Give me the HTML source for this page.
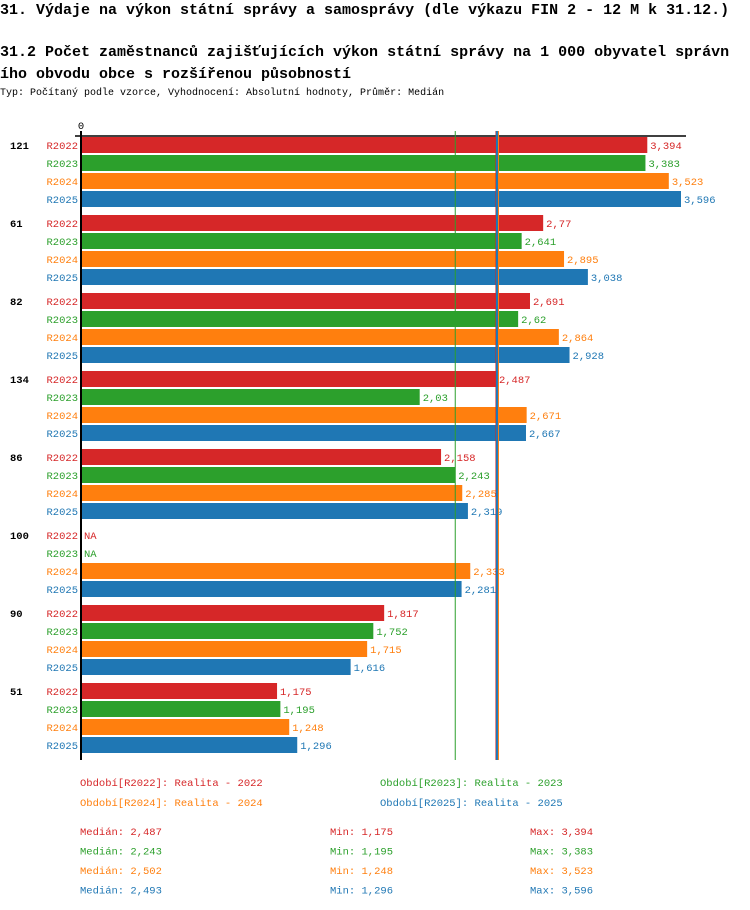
<!DOCTYPE html>
<html><head><meta charset="utf-8"><style>
body{margin:0;background:#fff;width:750px;height:910px;overflow:hidden;font-family:"Liberation Mono",monospace}
.t{position:absolute;white-space:nowrap}
</style></head><body>
<div class="t" style="left:0;top:2px;font-size:15px;font-weight:bold">31. Výdaje na výkon státní správy a samosprávy (dle výkazu FIN 2 - 12 M k 31.12.)</div>
<div class="t" style="left:0;top:42px;font-size:15px;font-weight:bold;line-height:22px">31.2 Počet zaměstnanců zajišťujících výkon státní správy na 1 000 obyvatel správn<br>ího obvodu obce s rozšířenou působností</div>
<div class="t" style="left:0;top:88px;font-size:10px">Typ: Počítaný podle vzorce, Vyhodnocení: Absolutní hodnoty, Průměr: Medián</div>
<svg id="c" width="750" height="910" style="position:absolute;left:0;top:0"></svg>
<script>
const categories=["121","61","82","134","86","100","90","51"];
const series=["R2022","R2023","R2024","R2025"];
const colors=["#d62728","#2ca02c","#ff7f0e","#1f77b4"];
const v2022=[3.394,2.77,2.691,2.487,2.158,null,1.817,1.175];
const v2023=[3.383,2.641,2.62,2.03,2.243,null,1.752,1.195];
const v2024=[3.523,2.895,2.864,2.671,2.285,2.333,1.715,1.248];
const v2025=[3.596,3.038,2.928,2.667,2.319,2.281,1.616,1.296];
const medians=[2.487,2.243,2.502,2.493];
const mins=["1,175","1,195","1,248","1,296"];
const maxs=["3,394","3,383","3,523","3,596"];
const legendLabels=["Období[R2022]: Realita - 2022","Období[R2023]: Realita - 2023","Období[R2024]: Realita - 2024","Období[R2025]: Realita - 2025"];
const vals=[v2022,v2023,v2024,v2025];
const svg=document.getElementById('c');const NS='http://www.w3.org/2000/svg';
function x(v){return 81+v*166.85;}
function y(g,s){return 137+g*78+s*18;}
function fmt(v){return String(v).replace('.',',');}
function mk(t,a,txt){const e=document.createElementNS(NS,t);for(const k in a)e.setAttribute(k,a[k]);if(txt!=null)e.textContent=txt;svg.appendChild(e);return e;}
const F='font-family:Liberation Mono,monospace;font-size:10.5px';
let e=mk('text',{x:81,y:129,'text-anchor':'middle',style:F},'0');


categories.forEach((c,g)=>{
 e=mk('text',{x:10,y:y(g,0)+12,style:F+';font-weight:bold'},c);
 
 
 series.forEach((s,i)=>{
  e=mk('text',{x:78,y:y(g,i)+12,'text-anchor':'end',fill:colors[i],style:F},s);
  
  
  const v=vals[i][g];
  if(v==null){e=mk('text',{x:84,y:y(g,i)+12,fill:colors[i],style:F},'NA');
   
   return;}
  e=mk('rect',{x:81,y:y(g,i),width:x(v)-81,height:16,fill:colors[i]});
  
  
  e=mk('text',{x:x(v)+3,y:y(g,i)+12,fill:colors[i],style:F},fmt(v));
  
  
 });
});
e=mk('line',{x1:75,y1:136,x2:686,y2:136,stroke:'#000','stroke-width':1.5});


e=mk('line',{x1:81,y1:131,x2:81,y2:760,stroke:'#000','stroke-width':2});


medians.forEach((m,i)=>{e=mk('line',{x1:x(m),y1:131,x2:x(m),y2:760,stroke:colors[i],'stroke-width':i==3?2:1});
 
 });
legendLabels.forEach((l,i)=>{e=mk('text',{x:i%2?380:80,y:786+Math.floor(i/2)*20,fill:colors[i],style:F},l);
 
 });
series.forEach((s,i)=>{const yy=835+i*19.5;
 e=mk('text',{x:80,y:yy,fill:colors[i],style:F},'Medián: '+fmt(medians[i]));
 
 
 e=mk('text',{x:330,y:yy,fill:colors[i],style:F},'Min: '+mins[i]);
 
 
 e=mk('text',{x:530,y:yy,fill:colors[i],style:F},'Max: '+maxs[i]);
 
 
});
</script>
</body></html>
